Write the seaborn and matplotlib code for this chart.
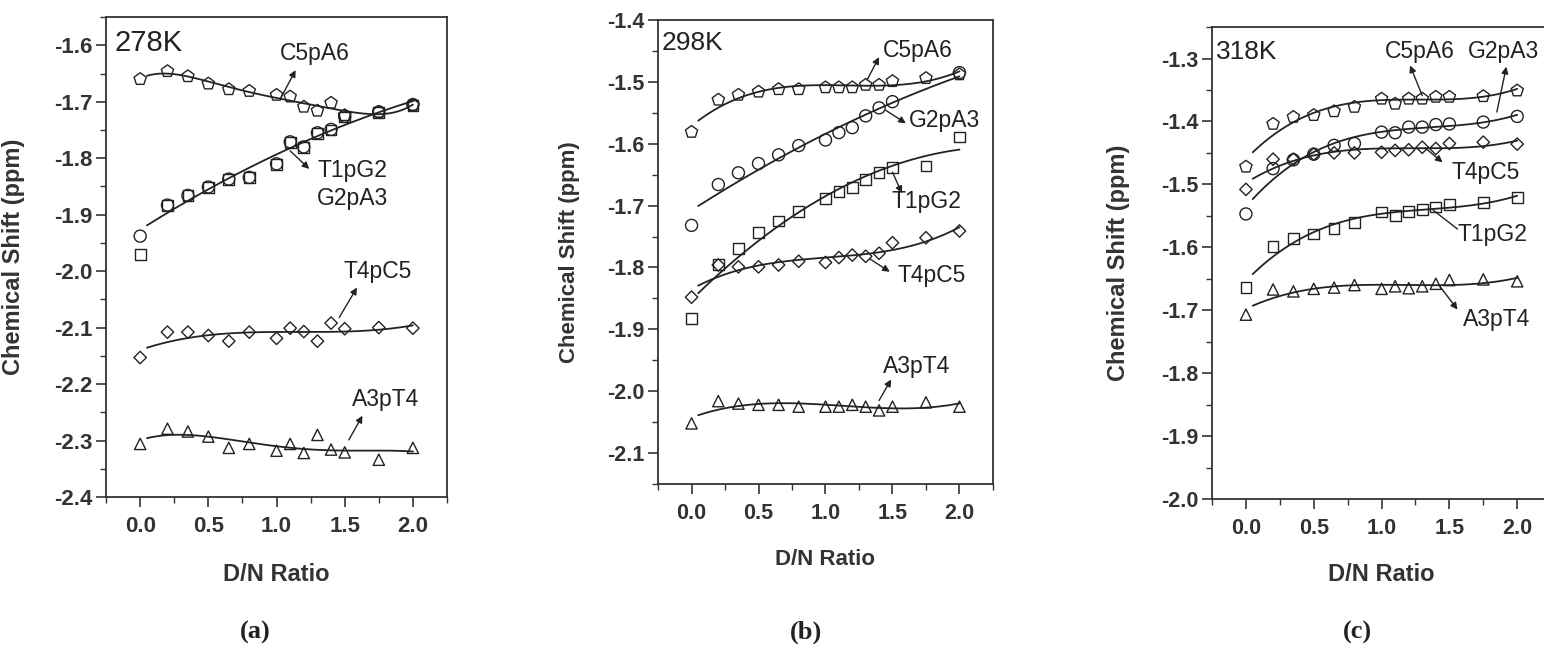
import numpy as np
import pandas as pd
import matplotlib
matplotlib.use("Agg")
import matplotlib.pyplot as plt
from matplotlib.ticker import MultipleLocator, FormatStrFormatter
import seaborn as sns

# ---------------------------------------------------------------- data
ratio = [0.0, 0.2, 0.35, 0.5, 0.65, 0.8, 1.0, 1.1, 1.2, 1.3, 1.4, 1.5, 1.75, 2.0]

# 278 K
c5pa6_278 = [-1.660, -1.646, -1.655, -1.668, -1.678, -1.681, -1.688, -1.691,
             -1.709, -1.716, -1.702, -1.724, -1.718, -1.706]
g2pa3_278 = [-1.938, -1.883, -1.866, -1.851, -1.837, -1.834, -1.810, -1.771,
             -1.780, -1.755, -1.749, -1.726, -1.718, -1.705]
t1pg2_278 = [-1.970, -1.884, -1.866, -1.852, -1.838, -1.834, -1.811, -1.772,
             -1.781, -1.756, -1.750, -1.727, -1.719, -1.706]
t4pc5_278 = [-2.153, -2.108, -2.108, -2.114, -2.124, -2.108, -2.119, -2.101,
             -2.107, -2.124, -2.092, -2.102, -2.100, -2.101]
a3pt4_278 = [-2.306, -2.279, -2.284, -2.293, -2.313, -2.306, -2.318, -2.306,
             -2.322, -2.290, -2.316, -2.321, -2.334, -2.313]

# 298 K
c5pa6_298 = [-1.581, -1.529, -1.521, -1.516, -1.512, -1.512, -1.509, -1.509,
             -1.509, -1.505, -1.505, -1.499, -1.494, -1.488]
g2pa3_298 = [-1.732, -1.666, -1.647, -1.632, -1.618, -1.603, -1.594, -1.582,
             -1.574, -1.555, -1.542, -1.532, np.nan, -1.485]
t1pg2_298 = [-1.882, -1.795, -1.769, -1.744, -1.725, -1.709, -1.688, -1.677,
             -1.671, -1.658, -1.647, -1.638, -1.636, -1.589]
t4pc5_298 = [-1.848, -1.796, -1.799, -1.799, -1.796, -1.790, -1.792, -1.784,
             -1.780, -1.782, -1.777, -1.760, -1.752, -1.741]
a3pt4_298 = [-2.052, -2.016, -2.020, -2.022, -2.022, -2.025, -2.025, -2.025,
             -2.022, -2.025, -2.031, -2.025, -2.018, -2.025]

# 318 K
c5pa6_318 = [-1.472, -1.404, -1.393, -1.390, -1.384, -1.377, -1.364, -1.372,
             -1.364, -1.364, -1.361, -1.361, -1.360, -1.351]
g2pa3_318 = [-1.547, -1.475, -1.461, -1.452, -1.438, -1.435, -1.417, -1.418,
             -1.409, -1.409, -1.405, -1.404, -1.401, -1.392]
t4pc5_318 = [-1.508, -1.460, -1.460, -1.452, -1.450, -1.450, -1.449, -1.446,
             -1.445, -1.441, -1.443, -1.435, -1.433, -1.436]
t1pg2_318 = [-1.664, -1.599, -1.586, -1.579, -1.570, -1.560, -1.544, -1.549,
             -1.543, -1.540, -1.536, -1.532, -1.529, -1.521]
a3pt4_318 = [-1.707, -1.667, -1.670, -1.666, -1.664, -1.660, -1.666, -1.662,
             -1.665, -1.662, -1.658, -1.652, -1.651, -1.654]

markers = {"C5pA6": "p", "G2pA3": "o", "T1pG2": "s", "T4pC5": "D", "A3pT4": "^"}
marker_size = {"p": 85, "o": 75, "s": 60, "D": 40, "^": 66}

INK = "#222222"
AXC = "#333333"
plt.rcParams["axes.unicode_minus"] = False
sns.set_style("white")
plt.rcParams["font.family"] = ["Liberation Sans", "DejaVu Sans"]


def fit_curve(x, y, deg, x0=0.05, x1=2.0):
    x = np.asarray(x, float)
    y = np.asarray(y, float)
    ok = ~np.isnan(y)
    coef = np.polyfit(x[ok], y[ok], deg)
    grid = np.linspace(x0, x1, 200)
    return grid, np.polyval(coef, grid)


panels = [
    dict(
        rect=[0.0687, 0.2389, 0.2208, 0.7350], ylim=(-2.4, -1.55),
        temp="278K", temp_xy=(-0.19, -1.596), temp_size=21,
        tick_size=16, label_size=17, note_size=16.5,
        series=[("C5pA6", c5pa6_278), ("T1pG2", t1pg2_278), ("G2pA3", g2pa3_278),
                ("T4pC5", t4pc5_278), ("A3pT4", a3pt4_278)],
        fits=[(c5pa6_278, 5), (g2pa3_278, 2), (t4pc5_278, 3), (a3pt4_278, 4)],
        notes=[("C5pA6", (1.28, -1.614), (1.14, -1.644), (1.03, -1.694), True),
               ("T1pG2", (1.56, -1.822), (1.24, -1.819), (1.10, -1.787), True),
               ("G2pA3", (1.56, -1.872), None, None, False),
               ("T4pC5", (1.74, -2.000), (1.59, -2.029), (1.46, -2.082), True),
               ("A3pT4", (1.80, -2.228), (1.63, -2.256), (1.53, -2.299), True)],
        ylab_x=-0.2375, xlab_y=-0.1375,
    ),
    dict(
        rect=[0.4262, 0.2588, 0.2169, 0.7106], ylim=(-2.15, -1.4),
        temp="298K", temp_xy=(-0.22, -1.437), temp_size=19,
        tick_size=15.5, label_size=16, note_size=16.5,
        series=[("C5pA6", c5pa6_298), ("G2pA3", g2pa3_298), ("T1pG2", t1pg2_298),
                ("T4pC5", t4pc5_298), ("A3pT4", a3pt4_298)],
        fits=[(c5pa6_298, 3), (g2pa3_298, 2), (t1pg2_298, 2), (t4pc5_298, 3),
              (a3pt4_298, 3)],
        notes=[("C5pA6", (1.69, -1.449), (1.40, -1.460), (1.31, -1.497), True),
               ("G2pA3", (1.89, -1.562), (1.60, -1.567), (1.45, -1.546), True),
               ("T1pG2", (1.75, -1.694), (1.57, -1.680), (1.50, -1.646), True),
               ("T4pC5", (1.79, -1.813), (1.48, -1.807), (1.33, -1.786), True),
               ("A3pT4", (1.68, -1.960), (1.49, -1.981), (1.40, -2.015), True)],
        ylab_x=-0.233, xlab_y=-0.14,
    ),
    dict(
        rect=[0.7850, 0.2358, 0.2196, 0.7228], ylim=(-2.0, -1.25),
        temp="318K", temp_xy=(-0.22, -1.289), temp_size=19,
        tick_size=15.5, label_size=17, note_size=16.5,
        series=[("C5pA6", c5pa6_318), ("G2pA3", g2pa3_318), ("T4pC5", t4pc5_318),
                ("T1pG2", t1pg2_318), ("A3pT4", a3pt4_318)],
        fits=[(c5pa6_318, 3), (g2pa3_318, 3), (t4pc5_318, 3), (t1pg2_318, 3),
              (a3pt4_318, 3)],
        notes=[("C5pA6", (1.28, -1.289), (1.21, -1.311), (1.30, -1.359), True),
               ("G2pA3", (1.90, -1.289), (1.92, -1.313), (1.85, -1.385), True),
               ("T4pC5", (1.77, -1.481), (1.45, -1.465), (1.32, -1.442), True),
               ("T1pG2", (1.82, -1.579), (1.56, -1.571), (1.38, -1.541), False),
               ("A3pT4", (1.85, -1.715), (1.56, -1.699), (1.43, -1.662), True)],
        ylab_x=-0.242, xlab_y=-0.1356,
    ),
]

fig = plt.figure(figsize=(15.44, 6.53), dpi=100)

for p in panels:
    ax = fig.add_axes(p["rect"])
    ax.set_facecolor("none")

    # fitted trend lines
    for yv, deg in p["fits"]:
        gx, gy = fit_curve(ratio, yv, deg)
        sns.lineplot(x=gx, y=gy, ax=ax, color=INK, linewidth=1.3, sort=False)

    # measured shifts as open symbols
    for name, yv in p["series"]:
        df = pd.DataFrame({"ratio": ratio, "shift": yv}).dropna()
        m = markers[name]
        sns.scatterplot(data=df, x="ratio", y="shift", ax=ax, marker=m,
                        s=marker_size[m], facecolor="none", edgecolor=INK,
                        linewidth=1.0, zorder=3, legend=False)

    # series labels with leader arrows
    for text, txy, head, tail, arrow in p["notes"]:
        ax.text(txy[0], txy[1], text, fontsize=p["note_size"], color=INK,
                ha="center", va="center")
        if head is not None:
            style = "-|>" if arrow else "-"
            ax.annotate("", xy=head, xytext=tail,
                        arrowprops=dict(arrowstyle=style, color=INK, lw=1.0,
                                        mutation_scale=10, shrinkA=0, shrinkB=0))

    ax.text(p["temp_xy"][0], p["temp_xy"][1], p["temp"],
            fontsize=p["temp_size"], color=INK, ha="left", va="center")

    ax.set_xlim(-0.25, 2.25)
    ax.set_ylim(*p["ylim"])
    ax.xaxis.set_major_locator(MultipleLocator(0.5))
    ax.xaxis.set_minor_locator(MultipleLocator(0.25))
    ax.yaxis.set_major_locator(MultipleLocator(0.1))
    ax.yaxis.set_minor_locator(MultipleLocator(0.05))
    ax.xaxis.set_major_formatter(FormatStrFormatter("%.1f"))
    ax.yaxis.set_major_formatter(FormatStrFormatter("%.1f"))
    ax.tick_params(which="both", direction="out", color=AXC,
                   top=False, right=False, left=True, bottom=True)
    ax.tick_params(which="major", length=7, width=1.2,
                   labelsize=p["tick_size"], labelcolor=AXC)
    ax.tick_params(which="minor", length=4.5, width=1.0)
    ax.tick_params(axis="x", which="major", pad=7)
    ax.tick_params(axis="y", which="major", pad=3)
    for lab in ax.get_xticklabels() + ax.get_yticklabels():
        lab.set_fontweight("bold")
    for sp in ax.spines.values():
        sp.set_visible(True)
        sp.set_color(AXC)
        sp.set_linewidth(1.3)

    ax.set_xlabel("D/N Ratio", fontsize=p["label_size"], fontweight="bold",
                  color=AXC)
    ax.set_ylabel("Chemical Shift (ppm)", fontsize=p["label_size"],
                  fontweight="bold", color=AXC)
    ax.xaxis.set_label_coords(0.5, p["xlab_y"])
    ax.yaxis.set_label_coords(p["ylab_x"], 0.5)

# sub-figure tags
for tag, xpos in [("(a)", 255), ("(b)", 806), ("(c)", 1357)]:
    fig.text(xpos / 1544, 1 - 632 / 653, tag, fontsize=19, fontweight="bold",
             family=["Liberation Serif", "DejaVu Serif"], color=INK,
             ha="center", va="center")

fig.savefig("out.png", dpi=100, facecolor="white")
